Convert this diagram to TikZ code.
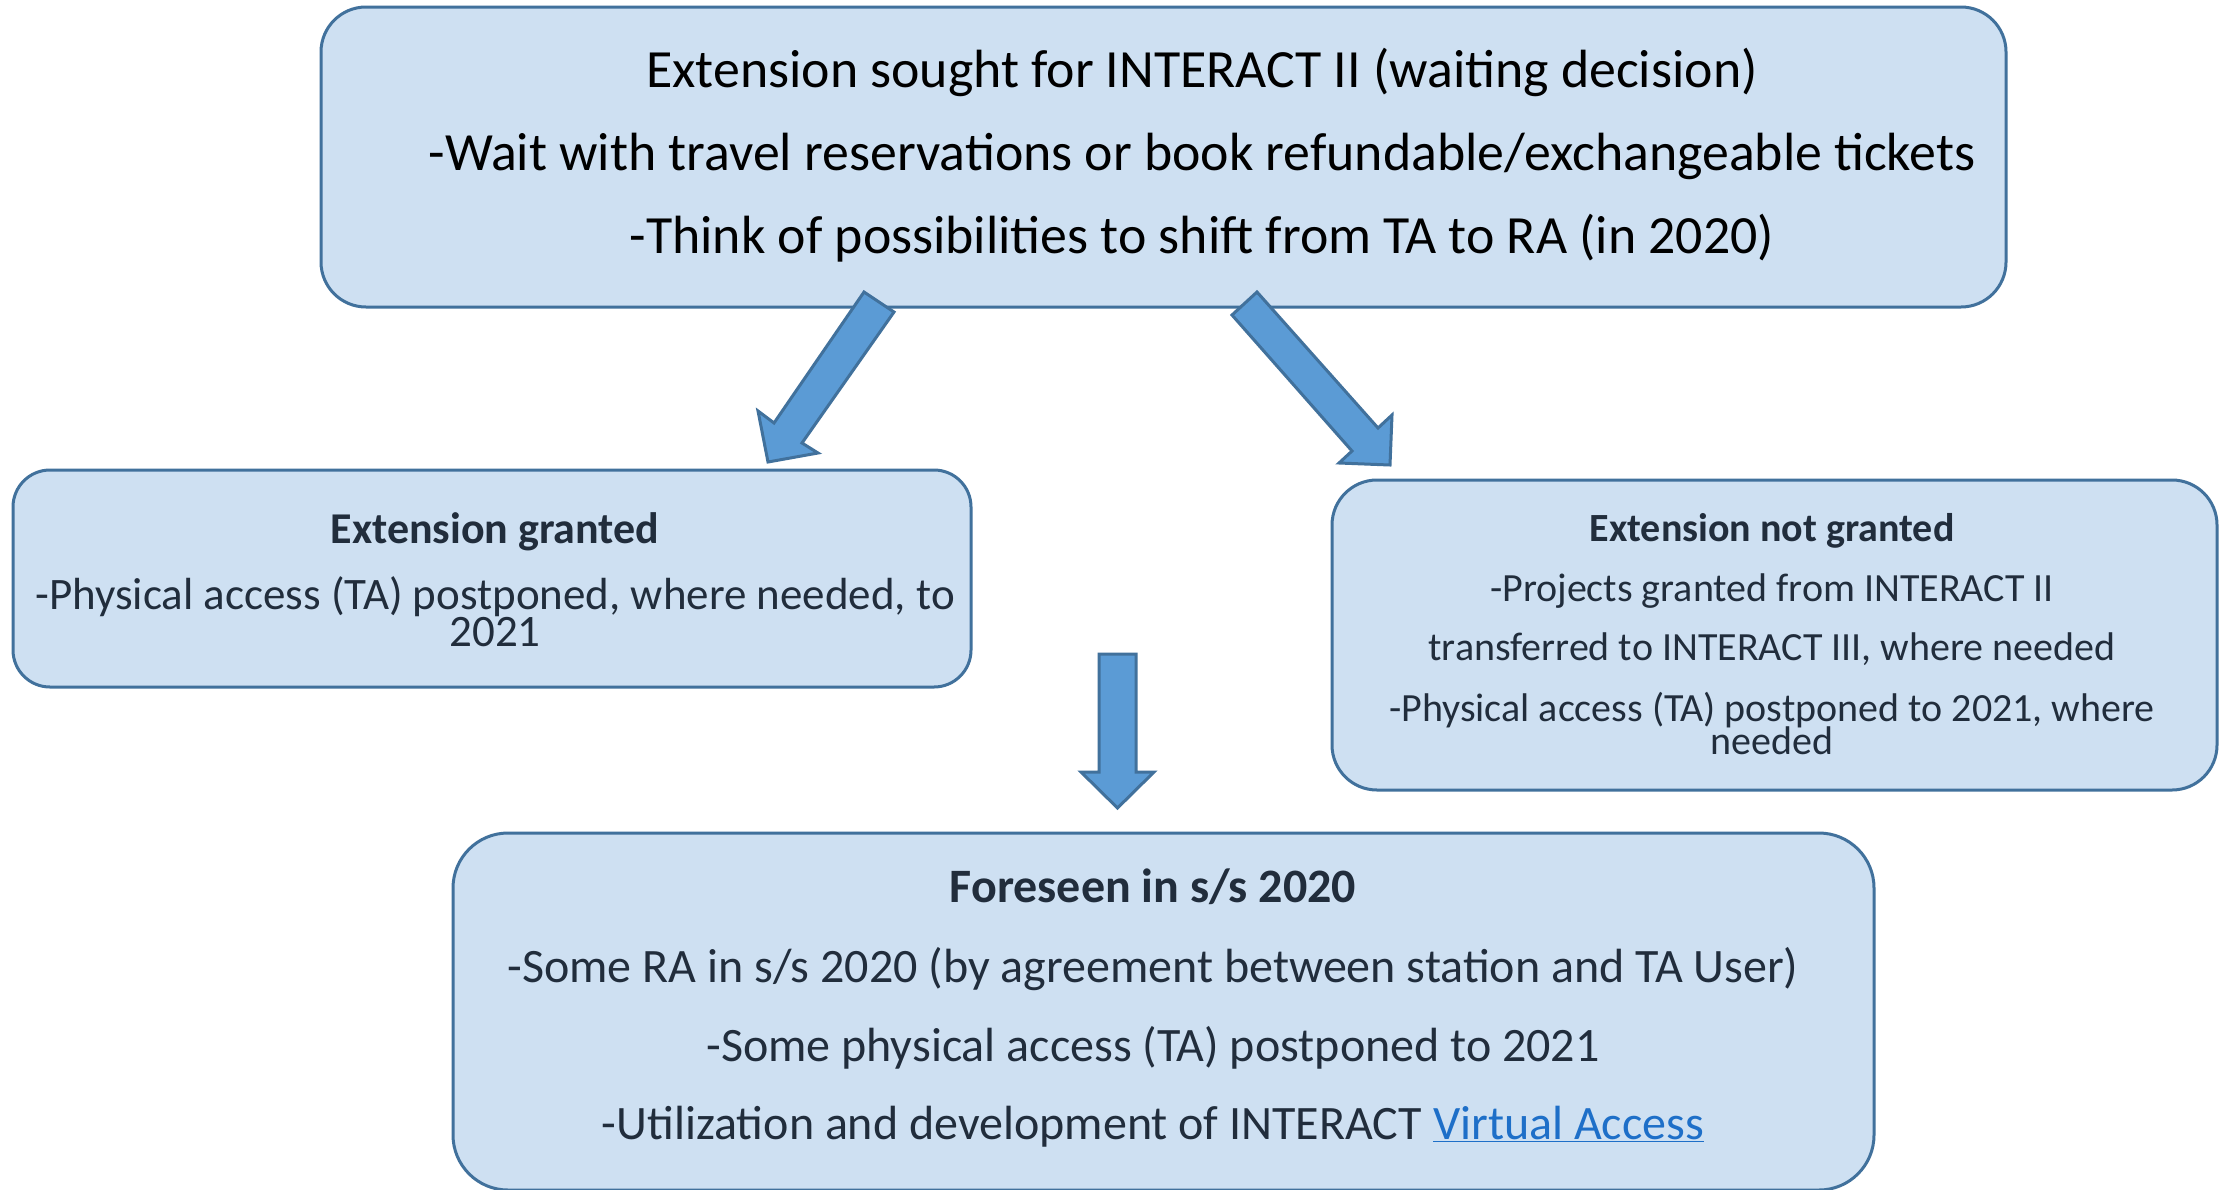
\documentclass[tikz,border=0pt]{standalone}
\usepackage{fontspec}
\setmainfont{Carlito}
\definecolor{boxfill}{HTML}{CEE0F2}
\definecolor{boxline}{HTML}{41719C}
\definecolor{arrowfill}{HTML}{5B9BD5}
\definecolor{txt}{HTML}{212D3C}
\definecolor{linkc}{HTML}{1E6FC8}
\tikzset{
  box/.style={draw=boxline, fill=boxfill, line width=3pt, inner sep=0pt, outer sep=0pt},
  arrowstyle/.style={draw=boxline, fill=arrowfill, line width=3pt, line join=miter},
  lbl/.style={anchor=base, inner sep=0pt, text=txt},
}
\begin{document}
\begin{tikzpicture}[x=1pt,y=-1pt]
\useasboundingbox (0,0) rectangle (2226,1189);
\clip (0,0) rectangle (2226,1189);
\fill[white] (0,0) rectangle (2226,1189);

% boxes
\node[box, rounded corners=45pt, minimum width=1685pt, minimum height=300pt] (top) at (1163.5,157) {};
\node[box, rounded corners=37pt, minimum width=958pt, minimum height=217pt] (left) at (492,578.5) {};
\node[box, rounded corners=45pt, minimum width=885pt, minimum height=310pt] (right) at (1774.5,635) {};
\node[box, rounded corners=55pt, minimum width=1421pt, minimum height=357pt] (bottom) at (1163.5,1011.5) {};

% top box text
\begin{scope}[every node/.style={lbl, text=black, font=\fontsize{53.8}{60}\selectfont}]
\node (t1) at (1202,87) {Extension sought for INTERACT II (waiting decision)};
\node (t2) at (1202,170) {-Wait with travel reservations or book refundable/exchangeable tickets};
\node (t3) at (1202,253) {-Think of possibilities to shift from TA to RA (in 2020)};
\end{scope}

% left box text
\node[lbl, font=\fontsize{44}{50}\selectfont\bfseries] (l1) at (495,543) {Extension granted};
\begin{scope}[every node/.style={lbl, font=\fontsize{45}{50}\selectfont}]
\node (l2) at (495,609) {-Physical access (TA) postponed, where needed, to};
\node (l3) at (495,646) {2021};
\end{scope}

% right box text
\node[lbl, font=\fontsize{40}{46}\selectfont\bfseries] (r1) at (1772,541) {Extension not granted};
\begin{scope}[every node/.style={lbl, font=\fontsize{40}{46}\selectfont}]
\node (r2) at (1772,601) {-Projects granted from INTERACT II};
\node (r3) at (1772,660) {transferred to INTERACT III, where needed};
\node (r4) at (1772,721) {-Physical access (TA) postponed to 2021, where};
\node (r5) at (1772,754) {needed};
\end{scope}

% bottom box text
\node[lbl, font=\fontsize{48}{54}\selectfont\bfseries] (b1) at (1153,902) {Foreseen in s/s 2020};
\begin{scope}[every node/.style={lbl, font=\fontsize{48}{54}\selectfont}]
\node (b2) at (1153,982) {-Some RA in s/s 2020 (by agreement between station and TA User)};
\node (b3) at (1153,1061) {-Some physical access (TA) postponed to 2021};
\node (b4) at (1153,1139) {-Utilization and development of INTERACT \textcolor{linkc}{\underline{Virtual Access}}};
\end{scope}

% block arrows
\draw[arrowstyle] (864,292) -- (894,312) -- (802,443) -- (818,453) -- (768,462)
  -- (758,411) -- (774,423) -- cycle;
\draw[arrowstyle] (1257,292) -- (1232,315) -- (1352,451) -- (1339,463) -- (1390,465)
  -- (1392,415) -- (1378,428) -- cycle;
\draw[arrowstyle] (1099,654) -- (1136,654) -- (1136,772) -- (1154,772) -- (1117.5,808)
  -- (1081,772) -- (1099,772) -- cycle;
\end{tikzpicture}
\end{document}
